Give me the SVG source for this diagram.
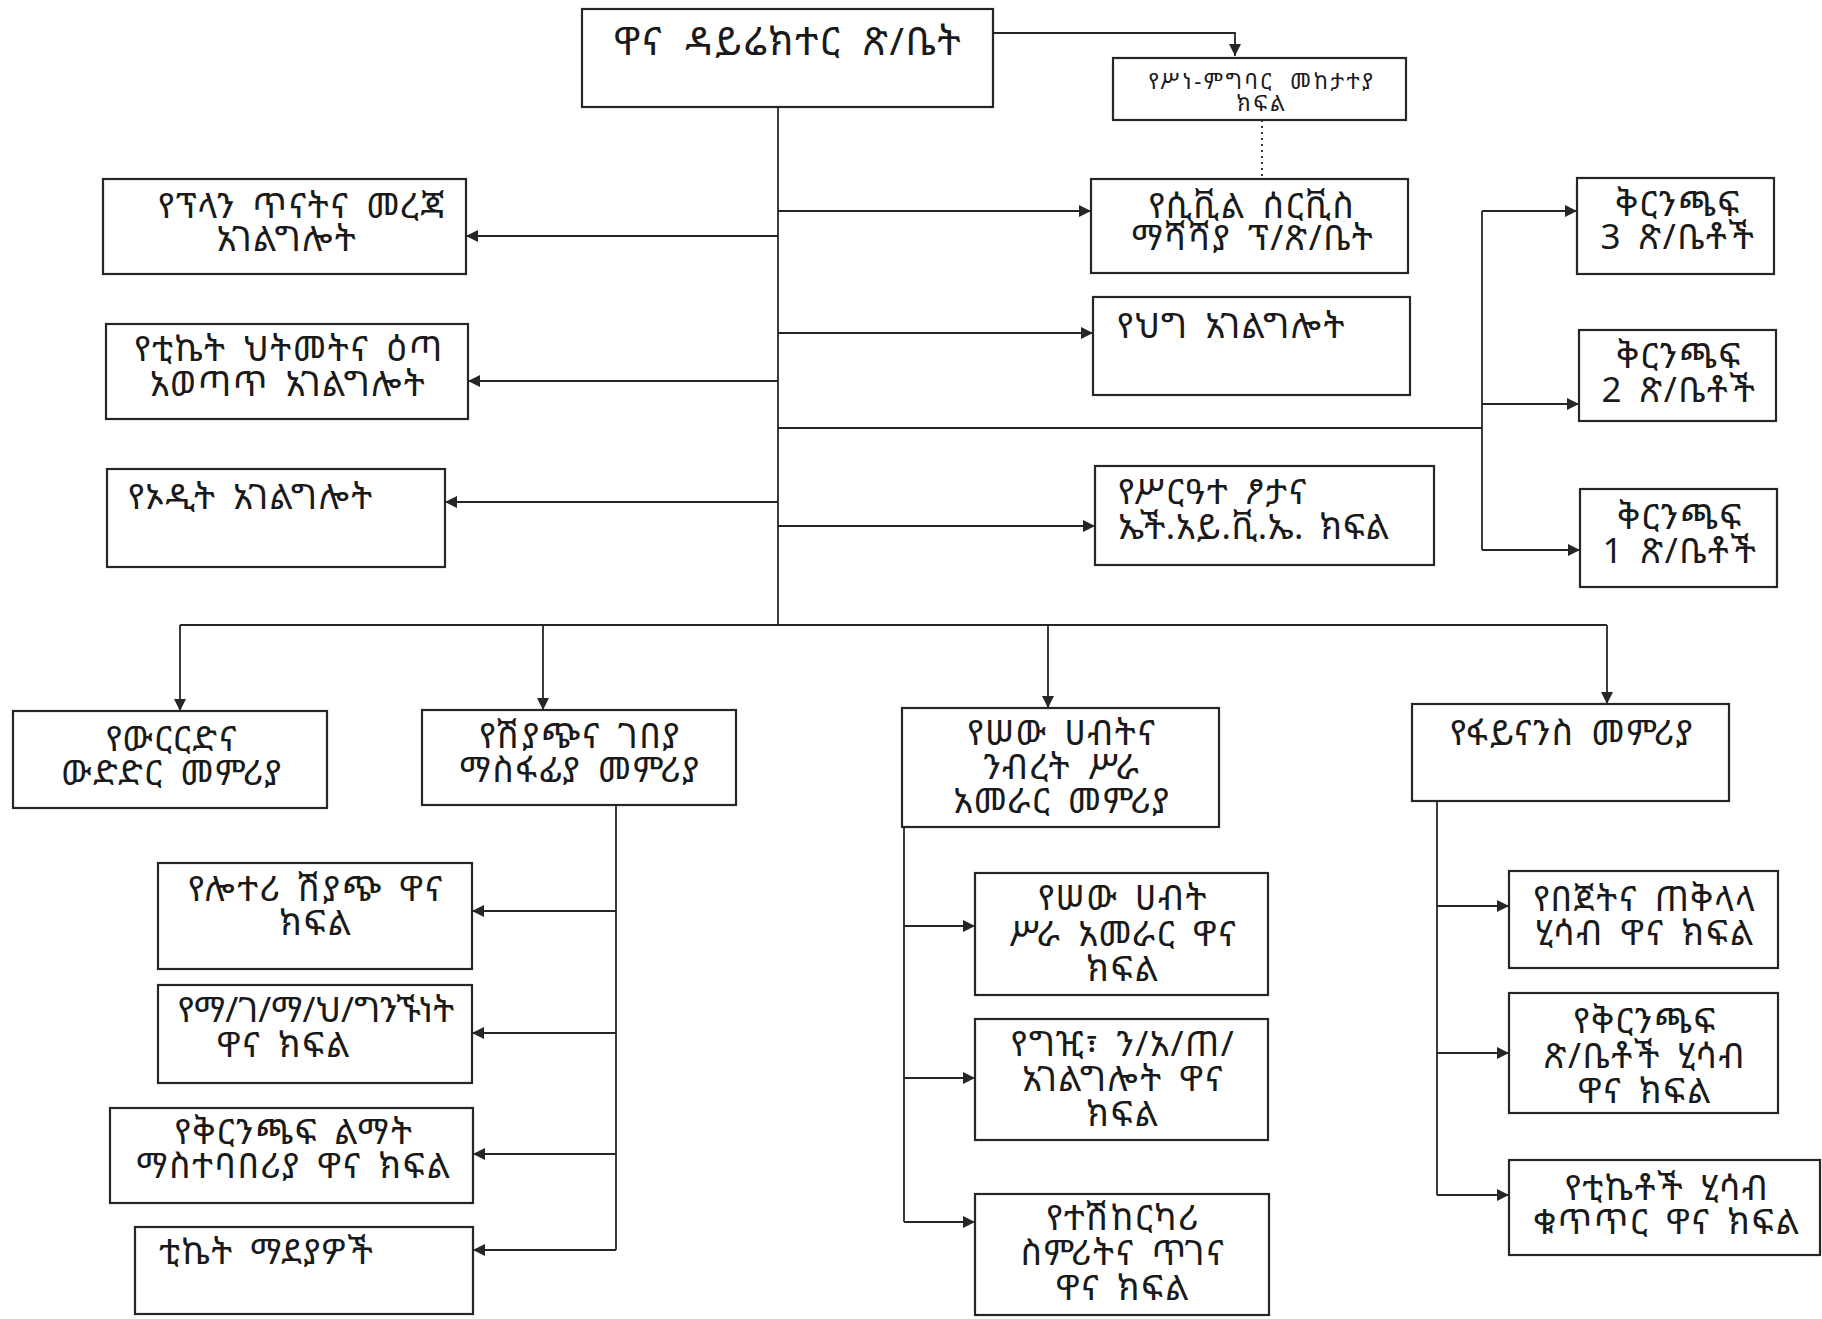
<svg xmlns="http://www.w3.org/2000/svg" width="1822" height="1319" viewBox="0 0 1822 1319">
<style>
.b{fill:#fff;stroke:#262626;stroke-width:2.2}
.t{font-family:"Noto Sans Ethiopic","Noto Serif Ethiopic","Abyssinica SIL","DejaVu Sans","FreeSerif",serif;font-size:35px;letter-spacing:1.5px;word-spacing:6px;fill:#1a1a1a;text-anchor:middle}
.l{text-anchor:start}
.c{fill:none;stroke:#262626;stroke-width:1.8}
</style>
<defs>
<marker id="a" viewBox="0 0 10 10" refX="10" refY="5" markerWidth="12" markerHeight="12" markerUnits="userSpaceOnUse" orient="auto"><path d="M0,0L10,5L0,10z" fill="#262626"/></marker>
</defs>
<rect width="1822" height="1319" fill="#fff"/>
<g id="connectors">
<path class="c" d="M993,33H1235V56" marker-end="url(#a)"/>
<path class="c" d="M1262,120V178" stroke-dasharray="2,4"/>
<path class="c" d="M778,107V625"/>
<path class="c" d="M778,236H466" marker-end="url(#a)"/>
<path class="c" d="M778,381H468" marker-end="url(#a)"/>
<path class="c" d="M778,502H445" marker-end="url(#a)"/>
<path class="c" d="M778,211H1091" marker-end="url(#a)"/>
<path class="c" d="M778,333H1093" marker-end="url(#a)"/>
<path class="c" d="M778,526H1095" marker-end="url(#a)"/>
<path class="c" d="M778,428H1482"/>
<path class="c" d="M1482,211V550"/>
<path class="c" d="M1482,211H1577" marker-end="url(#a)"/>
<path class="c" d="M1482,404H1579" marker-end="url(#a)"/>
<path class="c" d="M1482,550H1580" marker-end="url(#a)"/>
<path class="c" d="M180,625H1607"/>
<path class="c" d="M180,625V711" marker-end="url(#a)"/>
<path class="c" d="M543,625V710" marker-end="url(#a)"/>
<path class="c" d="M1048,625V708" marker-end="url(#a)"/>
<path class="c" d="M1607,625V704" marker-end="url(#a)"/>
<path class="c" d="M616,805V1250"/>
<path class="c" d="M616,911H472" marker-end="url(#a)"/>
<path class="c" d="M616,1033H472" marker-end="url(#a)"/>
<path class="c" d="M616,1154H473" marker-end="url(#a)"/>
<path class="c" d="M616,1250H473" marker-end="url(#a)"/>
<path class="c" d="M904,827V1222"/>
<path class="c" d="M904,926H975" marker-end="url(#a)"/>
<path class="c" d="M904,1078H975" marker-end="url(#a)"/>
<path class="c" d="M904,1222H975" marker-end="url(#a)"/>
<path class="c" d="M1437,801V1195"/>
<path class="c" d="M1437,906H1509" marker-end="url(#a)"/>
<path class="c" d="M1437,1053H1509" marker-end="url(#a)"/>
<path class="c" d="M1437,1195H1509" marker-end="url(#a)"/>
</g>
<g id="n-top"><rect class="b" x="582" y="9" width="411" height="98"/><text class="t" x="788" y="55" style="font-size:39px;letter-spacing:1.5px;word-spacing:10px">ዋና ዳይሬክተር ጽ/ቤት</text></g>
<g id="n-ethics"><rect class="b" x="1113" y="58" width="293" height="62"/><text class="t" style="font-size:22px;letter-spacing:2.5px;word-spacing:8px"><tspan x="1262" y="89">የሥነ-ምግባር መከታተያ</tspan><tspan x="1262" y="111">ክፍል</tspan></text></g>
<g id="n-plan"><rect class="b" x="103" y="179" width="363" height="95"/><text class="t"><tspan x="302" y="218">የፕላን ጥናትና መረጃ</tspan><tspan x="287" y="251">አገልግሎት</tspan></text></g>
<g id="n-ticket"><rect class="b" x="106" y="324" width="362" height="95"/><text class="t"><tspan x="289" y="361">የቲኬት ህትመትና ዕጣ</tspan><tspan x="288" y="396">አወጣጥ አገልግሎት</tspan></text></g>
<g id="n-audit"><rect class="b" x="107" y="469" width="338" height="98"/><text class="t l" x="128" y="509">የኦዲት አገልግሎት</text></g>
<g id="n-civil"><rect class="b" x="1091" y="179" width="317" height="94"/><text class="t"><tspan x="1252" y="218">የሲቪል ሰርቪስ</tspan><tspan x="1253" y="250">ማሻሻያ ፕ/ጽ/ቤት</tspan></text></g>
<g id="n-law"><rect class="b" x="1093" y="297" width="317" height="98"/><text class="t l" x="1117" y="338">የህግ አገልግሎት</text></g>
<g id="n-gender"><rect class="b" x="1095" y="466" width="339" height="99"/><text class="t l"><tspan x="1118" y="504">የሥርዓተ ፆታና</tspan><tspan x="1118" y="539" style="letter-spacing:0.5px">ኤች.አይ.ቪ.ኤ. ክፍል</tspan></text></g>
<g id="n-br3"><rect class="b" x="1577" y="178" width="197" height="96"/><text class="t"><tspan x="1678" y="216">ቅርንጫፍ</tspan><tspan x="1678" y="249">3 ጽ/ቤቶች</tspan></text></g>
<g id="n-br2"><rect class="b" x="1579" y="330" width="197" height="91"/><text class="t"><tspan x="1679" y="368">ቅርንጫፍ</tspan><tspan x="1679" y="402">2 ጽ/ቤቶች</tspan></text></g>
<g id="n-br1"><rect class="b" x="1580" y="489" width="197" height="98"/><text class="t"><tspan x="1680" y="529">ቅርንጫፍ</tspan><tspan x="1680" y="563">1 ጽ/ቤቶች</tspan></text></g>
<g id="n-bet"><rect class="b" x="13" y="711" width="314" height="97"/><text class="t"><tspan x="172" y="751">የውርርድና</tspan><tspan x="172" y="785">ውድድር መምሪያ</tspan></text></g>
<g id="n-sales"><rect class="b" x="422" y="710" width="314" height="95"/><text class="t"><tspan x="580" y="748">የሽያጭና ገበያ</tspan><tspan x="580" y="782">ማስፋፊያ መምሪያ</tspan></text></g>
<g id="n-hr"><rect class="b" x="902" y="708" width="317" height="119"/><text class="t"><tspan x="1062" y="745">የሠው ሀብትና</tspan><tspan x="1062" y="779">ንብረት ሥራ</tspan><tspan x="1062" y="813">አመራር መምሪያ</tspan></text></g>
<g id="n-fin"><rect class="b" x="1412" y="704" width="317" height="97"/><text class="t" x="1572" y="745">የፋይናንስ መምሪያ</text></g>
<g id="n-lottery"><rect class="b" x="158" y="863" width="314" height="106"/><text class="t"><tspan x="316" y="901">የሎተሪ ሽያጭ ዋና</tspan><tspan x="316" y="935">ክፍል</tspan></text></g>
<g id="n-pr"><rect class="b" x="158" y="985" width="314" height="98"/><text class="t"><tspan x="316" y="1022" style="letter-spacing:0">የማ/ገ/ማ/ህ/ግንኙነት</tspan><tspan x="284" y="1057">ዋና ክፍል</tspan></text></g>
<g id="n-brdev"><rect class="b" x="110" y="1108" width="363" height="95"/><text class="t"><tspan x="294" y="1144">የቅርንጫፍ ልማት</tspan><tspan x="294" y="1178">ማስተባበሪያ ዋና ክፍል</tspan></text></g>
<g id="n-outlets"><rect class="b" x="135" y="1227" width="338" height="87"/><text class="t l" x="159" y="1264">ቲኬት ማደያዎች</text></g>
<g id="n-hrm"><rect class="b" x="975" y="873" width="293" height="122"/><text class="t"><tspan x="1123" y="910">የሠው ሀብት</tspan><tspan x="1123" y="946">ሥራ አመራር ዋና</tspan><tspan x="1123" y="981">ክፍል</tspan></text></g>
<g id="n-proc"><rect class="b" x="975" y="1019" width="293" height="121"/><text class="t"><tspan x="1123" y="1056">የግዢ፣ ን/አ/ጠ/</tspan><tspan x="1123" y="1091">አገልግሎት ዋና</tspan><tspan x="1123" y="1126">ክፍል</tspan></text></g>
<g id="n-vehicle"><rect class="b" x="975" y="1194" width="294" height="121"/><text class="t"><tspan x="1123" y="1230">የተሽከርካሪ</tspan><tspan x="1123" y="1265">ስምሪትና ጥገና</tspan><tspan x="1123" y="1300">ዋና ክፍል</tspan></text></g>
<g id="n-budget"><rect class="b" x="1509" y="871" width="269" height="97"/><text class="t"><tspan x="1645" y="911">የበጀትና ጠቅላላ</tspan><tspan x="1645" y="945">ሂሳብ ዋና ክፍል</tspan></text></g>
<g id="n-bracct"><rect class="b" x="1509" y="993" width="269" height="120"/><text class="t"><tspan x="1645" y="1033">የቅርንጫፍ</tspan><tspan x="1645" y="1068">ጽ/ቤቶች ሂሳብ</tspan><tspan x="1645" y="1103">ዋና ክፍል</tspan></text></g>
<g id="n-tktacct"><rect class="b" x="1509" y="1160" width="311" height="95"/><text class="t"><tspan x="1667" y="1200">የቲኬቶች ሂሳብ</tspan><tspan x="1667" y="1234">ቁጥጥር ዋና ክፍል</tspan></text></g>
</svg>
